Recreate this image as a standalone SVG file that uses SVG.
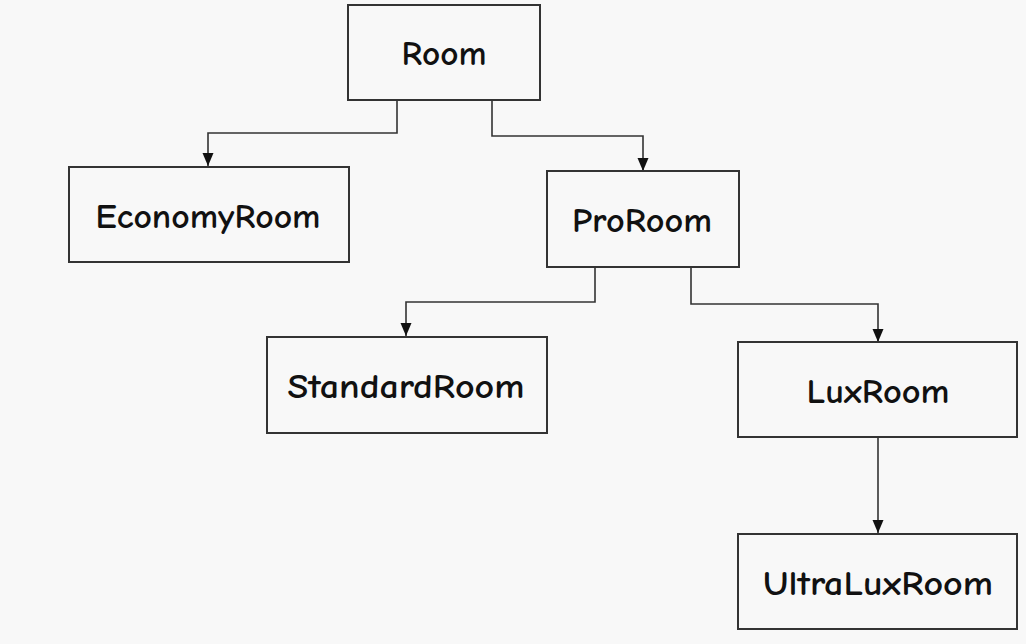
<svg xmlns="http://www.w3.org/2000/svg" width="1026" height="644" viewBox="0 0 1026 644">
<defs>
<style>
.box{fill:#f8f8f8;stroke:#333;stroke-width:2}
.lbl{font-family:"Comic Sans MS","Comic Neue","Open Sans","DejaVu Sans",sans-serif;font-size:34px;font-weight:bold;fill:#111;text-anchor:middle}
.edge{fill:none;stroke:#333;stroke-width:1.6}
</style>
<marker id="arr" markerWidth="14" markerHeight="14" viewBox="0 0 14 14" refX="13" refY="7" orient="auto" markerUnits="userSpaceOnUse">
<path d="M0,1.5 L13,7 L0,12.5 Z" fill="#111"/>
</marker>
</defs>
<rect width="1026" height="644" fill="#f8f8f8"/>
<g id="connectors">
<path class="edge" d="M397,100 V133 H208 V166" marker-end="url(#arr)"/>
<path class="edge" d="M492,100 V136 H643 V171" marker-end="url(#arr)"/>
<path class="edge" d="M595,267 V302 H406 V336" marker-end="url(#arr)"/>
<path class="edge" d="M691,267 V304 H878 V342" marker-end="url(#arr)"/>
<path class="edge" d="M878,437 V533" marker-end="url(#arr)"/>
</g>
<g id="room"><rect class="box" x="348" y="5" width="192" height="95"/><text class="lbl" x="444" y="65" textLength="85" lengthAdjust="spacingAndGlyphs">Room</text></g>
<g id="economyroom"><rect class="box" x="69" y="167" width="280" height="95"/><text class="lbl" x="208" y="228" textLength="225" lengthAdjust="spacingAndGlyphs">EconomyRoom</text></g>
<g id="proroom"><rect class="box" x="547" y="171" width="192" height="96"/><text class="lbl" x="642" y="232" textLength="140" lengthAdjust="spacingAndGlyphs">ProRoom</text></g>
<g id="standardroom"><rect class="box" x="267" y="337" width="280" height="96"/><text class="lbl" x="406" y="398" textLength="237" lengthAdjust="spacingAndGlyphs">StandardRoom</text></g>
<g id="luxroom"><rect class="box" x="738" y="342" width="279" height="95"/><text class="lbl" x="878" y="403" textLength="143" lengthAdjust="spacingAndGlyphs">LuxRoom</text></g>
<g id="ultraluxroom"><rect class="box" x="738" y="534" width="279" height="95"/><text class="lbl" x="878" y="595" textLength="230" lengthAdjust="spacingAndGlyphs">UltraLuxRoom</text></g>
</svg>
